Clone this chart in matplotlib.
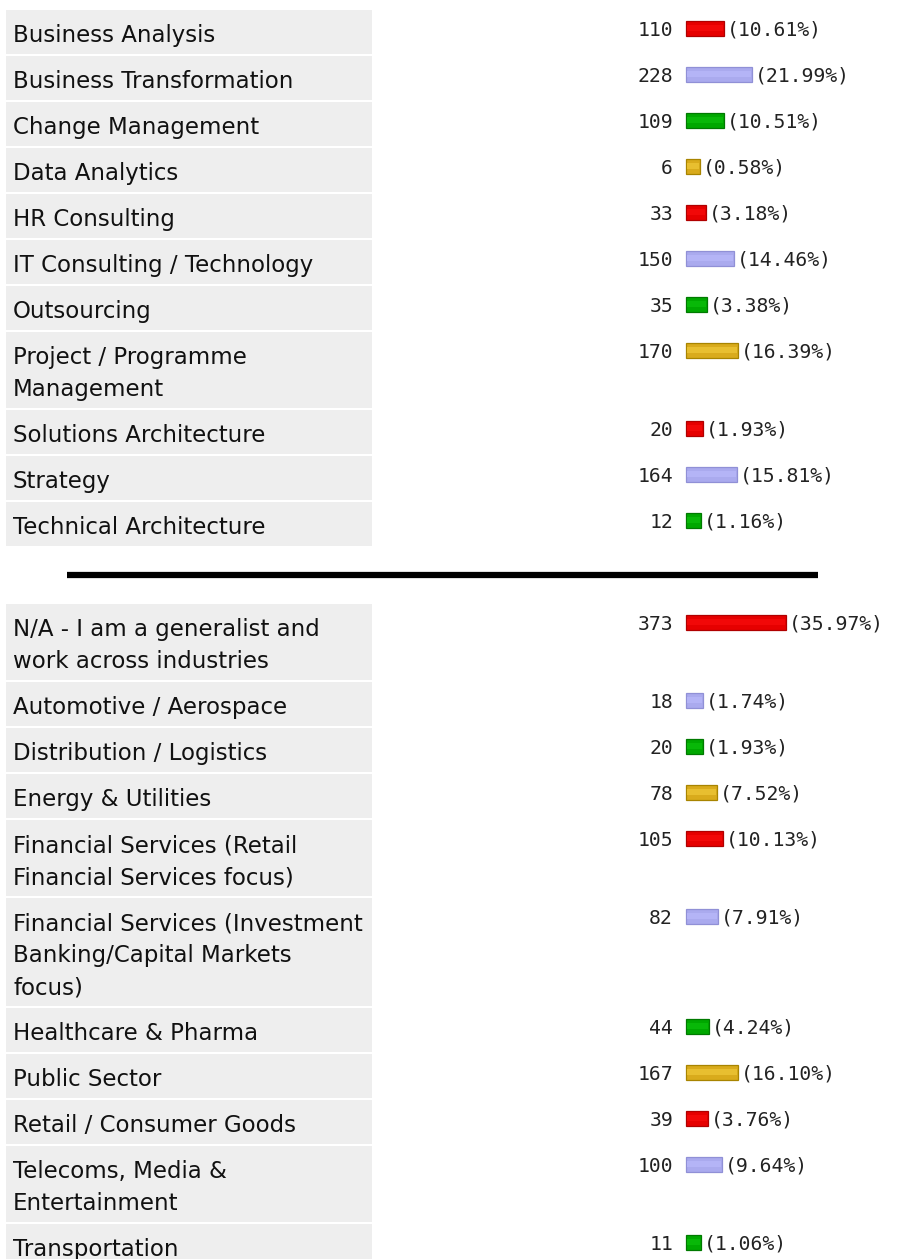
import matplotlib
matplotlib.use("Agg")
import matplotlib.pyplot as plt
from matplotlib.patches import Rectangle

# ---------------- data ----------------
labels_top = ["Business Analysis", "Business Transformation", "Change Management",
              "Data Analytics", "HR Consulting", "IT Consulting / Technology",
              "Outsourcing", "Project / Programme\nManagement", "Solutions Architecture",
              "Strategy", "Technical Architecture"]
counts_top = [110, 228, 109, 6, 33, 150, 35, 170, 20, 164, 12]
pct_top = [10.61, 21.99, 10.51, 0.58, 3.18, 14.46, 3.38, 16.39, 1.93, 15.81, 1.16]

labels_bot = ["N/A - I am a generalist and\nwork across industries",
              "Automotive / Aerospace", "Distribution / Logistics", "Energy & Utilities",
              "Financial Services (Retail\nFinancial Services focus)",
              "Financial Services (Investment\nBanking/Capital Markets\nfocus)",
              "Healthcare & Pharma", "Public Sector", "Retail / Consumer Goods",
              "Telecoms, Media &\nEntertainment", "Transportation"]
counts_bot = [373, 18, 20, 78, 105, 82, 44, 167, 39, 100, 11]
pct_bot = [35.97, 1.74, 1.93, 7.52, 10.13, 7.91, 4.24, 16.10, 3.76, 9.64, 1.06]

# ---------------- style ----------------
W, H = 899, 1259
fill = ["#e60000", "#aaaaee", "#00a800", "#d9ab1c"]
edge = ["#b00000", "#9090d6", "#007a00", "#a88400"]
light = ["#f20808", "#b4b4f6", "#08b808", "#e8bf30"]

CELL_X0, CELL_X1 = 6, 372
BAR_LEFT = 686
PX_PER_PCT = 2.435
BAR_MIN = 12.4
LINE_H = 32
ROW_H = 44
GAP = 2

fig = plt.figure(figsize=(W / 100, H / 100), dpi=100)
ax = fig.add_axes([0, 0, 1, 1])
ax.set_xlim(0, W)
ax.set_ylim(H, 0)
ax.axis("off")


def draw_section(labels, counts, pcts, top0):
    centers, widths, cols, edges, lights = [], [], [], [], []
    y = top0
    for i, lab in enumerate(labels):
        n = lab.count("\n") + 1
        h = ROW_H + LINE_H * (n - 1)
        ax.add_patch(Rectangle((CELL_X0, y), CELL_X1 - CELL_X0, h,
                               facecolor="#eeeeee", edgecolor="none", zorder=1))
        for k, line in enumerate(lab.split("\n")):
            ax.text(13, y + 32 + LINE_H * k, line, fontsize=16.5,
                    family="DejaVu Sans", color="#111111", va="baseline",
                    ha="left", zorder=3)
        centers.append(y + 18)
        widths.append(PX_PER_PCT * pcts[i] + BAR_MIN)
        cols.append(fill[i % 4])
        edges.append(edge[i % 4])
        lights.append(light[i % 4])
        y += h + GAP
    ax.barh(centers, widths, left=BAR_LEFT, height=15, color=cols,
            edgecolor=edges, linewidth=0.9, zorder=2)
    ax.barh([c - 0.5 for c in centers], [w - 2 for w in widths], left=BAR_LEFT + 1,
            height=6, color=lights, linewidth=0, zorder=2.5)
    for c, w, cnt, p in zip(centers, widths, counts, pcts):
        ax.text(673, c + 7.5, str(cnt), fontsize=14.2, family="DejaVu Sans Mono",
                color="#222222", ha="right", va="baseline", zorder=3)
        ax.text(BAR_LEFT + w + 3, c + 7.5, "(%.2f%%)" % p, fontsize=14.2,
                family="DejaVu Sans Mono", color="#222222", ha="left",
                va="baseline", zorder=3)


draw_section(labels_top, counts_top, pct_top, 10)
ax.plot([67, 818], [575, 575], color="black", linewidth=4.5, solid_capstyle="butt")
draw_section(labels_bot, counts_bot, pct_bot, 604)

fig.savefig("out.png", dpi=100, facecolor="white")
